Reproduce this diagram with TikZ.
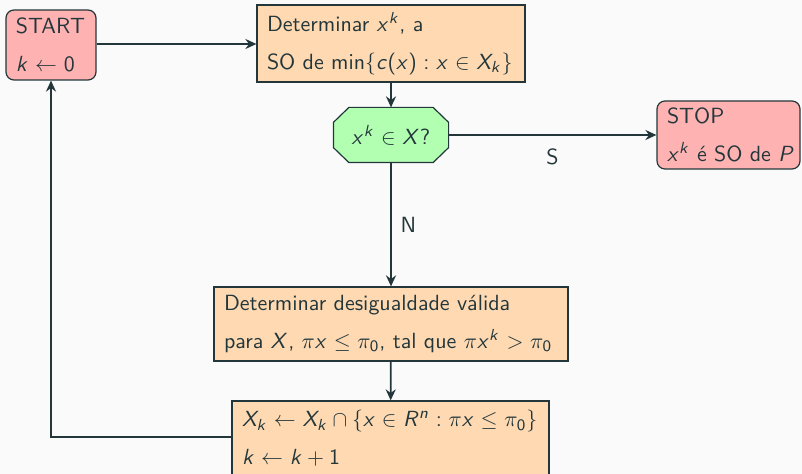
\documentclass[tikz,border=0pt]{standalone}
\usetikzlibrary{arrows.meta,calc}
\DeclareSymbolFont{sfletters}{OT1}{cmss}{m}{sl}
\DeclareSymbolFont{operators}{OT1}{cmss}{m}{n}
\DeclareMathSymbol{x}{\mathalpha}{sfletters}{`x}
\DeclareMathSymbol{k}{\mathalpha}{sfletters}{`k}
\DeclareMathSymbol{X}{\mathalpha}{sfletters}{`X}
\DeclareMathSymbol{c}{\mathalpha}{sfletters}{`c}
\DeclareMathSymbol{P}{\mathalpha}{sfletters}{`P}
\DeclareMathSymbol{R}{\mathalpha}{sfletters}{`R}
\DeclareMathSymbol{n}{\mathalpha}{sfletters}{`n}
\definecolor{mdark}{HTML}{23373B}
\definecolor{mbg}{HTML}{FAFAFA}
\thickmuskip=5.5mu plus 2mu
\tikzset{
  base/.style={draw=mdark, line width=0.6pt, text=mdark, inner xsep=5pt, inner ysep=0pt,
    align=left, font=\sffamily\fontsize{10.99}{19}\selectfont},
  termbox/.style={base, rectangle, rounded corners=4pt, fill=red!30},
  procbox/.style={base, rectangle, fill=orange!30},
  decbox/.style={base, rectangle, draw=none, align=center},
  octo/.style={draw=mdark, line width=0.6pt, fill=green!30},
  conn/.style={draw=mdark, line width=0.9pt, -{Stealth[length=5.5pt,width=5pt]}},
  lbl/.style={text=mdark, font=\sffamily\fontsize{10.99}{13}\selectfont},
}
\begin{document}
\begin{tikzpicture}[x=0.5pt,y=-0.5pt]
\fill[mbg] (0,0) rectangle (802,474);
\useasboundingbox (0,0) rectangle (802,474);
\node[termbox, minimum width=45pt, minimum height=35pt, text width=35pt] (start) at (51,45)
  {START\\$k \leftarrow 0$};
\node[procbox, minimum width=134pt, minimum height=38.5pt, text width=124pt] (det) at (391,43.5)
  {Determinar $x^k$, a\\\mbox{SO de $\min\{c(x) : x \in X_k\}$}};
\node[decbox, minimum width=57pt, minimum height=27pt] (dec) at (391,135) {};
\draw[octo] ($(dec.north west)+(15.5,0)$) -- ($(dec.north east)+(-15.5,0)$)
  -- ($(dec.north east)+(0,15)$) -- ($(dec.south east)+(0,-15)$)
  -- ($(dec.south east)+(-15.5,0)$) -- ($(dec.south west)+(15.5,0)$)
  -- ($(dec.south west)+(0,-15)$) -- ($(dec.north west)+(0,15)$) -- cycle;
\node[text=mdark, font=\sffamily\fontsize{10.99}{13}\selectfont] (dect) at (dec.center) {$x^k \in X$?};
\node[termbox, minimum width=71.5pt, minimum height=34pt, text width=61.5pt] (stop) at (728.5,135)
  {STOP\\\mbox{$x^k$ é SO de $P$}};
\node[procbox, minimum width=177pt, minimum height=37pt, text width=167pt] (ineq) at (391,324)
  {Determinar desigualdade válida\\\mbox{para $X$, $\pi x \le \pi_0$, tal que $\pi x^k > \pi_0$}};
\node[procbox, minimum width=158.5pt, minimum height=37.5pt, text width=148.5pt] (upd) at (390.5,438.5)
  {\mbox{$X_k \leftarrow X_k \cap \{x \in R^n : \pi x \le \pi_0\}$}\\$k \leftarrow k+1$};
\coordinate (corner) at (51,437);
\draw[conn] (start.east |- 0,44) -- (det.west |- 0,44);
\draw[conn] (det) -- (dec);
\draw[conn] (dec) -- node[lbl, pos=0.5, below=3pt] (s) {S} (stop);
\draw[conn] (dec) -- node[lbl, pos=0.5, right=1pt] (n) {N} (ineq);
\draw[conn] (ineq) -- (upd);
\draw[conn] (upd.west |- corner) -- (corner) -- (start.south);
\end{tikzpicture}
\end{document}
